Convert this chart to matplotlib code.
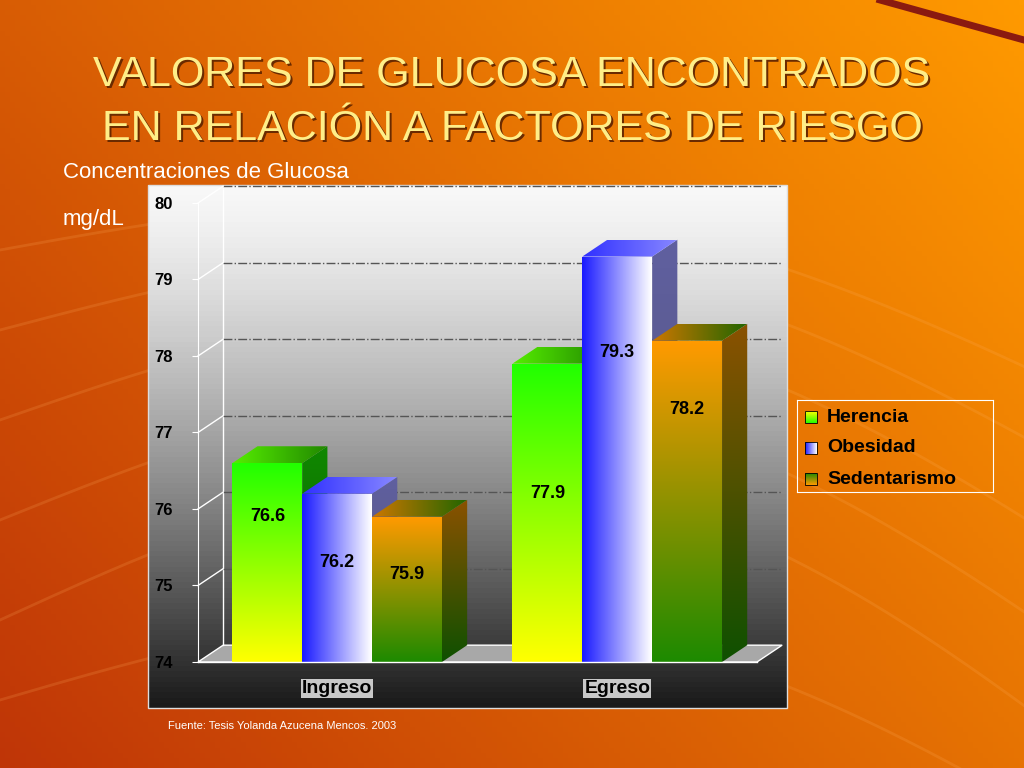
import numpy as np
import matplotlib.pyplot as plt
from matplotlib.colors import to_rgb
from matplotlib.patches import Polygon

plt.rcParams["font.family"] = "Liberation Sans"

# data
groups = ["Ingreso", "Egreso"]
series = ["Herencia", "Obesidad", "Sedentarismo"]
valores = {"Herencia": [76.6, 77.9], "Obesidad": [76.2, 79.3], "Sedentarismo": [75.9, 78.2]}
yticks = [74, 75, 76, 77, 78, 79, 80]

# how far below the bar top each value label sits (y units)
bajada = {"Herencia": [0.7, 1.7], "Obesidad": [0.9, 1.25], "Sedentarismo": [0.75, 0.9]}

# (front start, front end, direction) colours of each face
estilo = {
    "Herencia": dict(front=("#22ff00", "#ffff00", "v"), side=("#108800", "#0a5500", "v"), top=("#55ee00", "#228800", "h")),
    "Obesidad": dict(front=("#1a1aff", "#ffffff", "h"), side=("#6060a0", "#505070", "v"), top=("#3030ff", "#8888ff", "h")),
    "Sedentarismo": dict(front=("#ff9a00", "#1e8a00", "v"), side=("#8a5200", "#0f5000", "v"), top=("#cc7700", "#226600", "h")),
}


def gradfill(ax, verts, c1, c2, d, z):
    verts = np.array(verts)
    n = 64
    t = np.linspace(0, 1, n)
    a, b = np.array(to_rgb(c1)), np.array(to_rgb(c2))
    g = a[None, :] * (1 - t[:, None]) + b[None, :] * t[:, None]
    img = g[:, None, :] if d == "v" else g[None, :, :]
    x0, x1 = verts[:, 0].min(), verts[:, 0].max()
    y0, y1 = verts[:, 1].min(), verts[:, 1].max()
    im = ax.imshow(img, extent=[x0, x1, y0, y1], aspect="auto", origin="upper", zorder=z, interpolation="bilinear")
    poly = Polygon(verts, closed=True, fc="none", ec="none", transform=ax.transData)
    ax.add_patch(poly)
    im.set_clip_path(poly)


fig = plt.figure(figsize=(10.24, 7.68), dpi=100)

# background
bg = fig.add_axes([0, 0, 1, 1])
bg.set_xlim(0, 1024)
bg.set_ylim(768, 0)
bg.axis("off")
xx = np.linspace(0, 1, 200)
yy = np.linspace(0, 1, 150)
X, Y = np.meshgrid(xx, yy)
t = np.clip(0.55 * X + 0.35 * (1 - Y) + 0.1, 0, 1)
c_a, c_b = np.array(to_rgb("#b82a08")), np.array(to_rgb("#ff9a00"))
bgimg = c_a * (1 - t[..., None]) + c_b * t[..., None]
bg.imshow(bgimg, extent=[0, 1024, 768, 0], aspect="auto", zorder=0)
for k, (y0, amp) in enumerate([(250, 120), (330, 150), (420, 180), (520, 200), (620, 220), (700, 160)]):
    xs = np.linspace(0, 1024, 200)
    ys = y0 - amp * np.sin(xs / 1024 * np.pi * 0.9) + 0.15 * xs
    bg.plot(xs, ys, color="#ffb060", lw=2, alpha=0.18, zorder=1)
bg.plot([880, 1024], [0, 40], color="#8a1a10", lw=5, zorder=1)

# panel gradient
pt = np.linspace(0, 1, 100)
pa, pb = np.array(to_rgb("#f8f8f8")), np.array(to_rgb("#1a1a1a"))
pimg = (pa * (1 - pt[:, None] ** 1.3) + pb * pt[:, None] ** 1.3)[:, None, :]
bg.imshow(pimg, extent=[148, 787, 708, 185], aspect="auto", zorder=2)
bg.add_patch(plt.Rectangle((148, 185), 639, 523, fc="none", ec="#dddddd", lw=1, zorder=3))

# titles
for dx, col in [(2, "#6a2a00"), (0, "#ffee88")]:
    bg.text(512 + dx, 75 + dx, "VALORES DE GLUCOSA ENCONTRADOS", ha="center", va="center",
            fontsize=31, color=col, zorder=4)
    bg.text(512 + dx, 129 + dx, "EN RELACIÓN A FACTORES DE RIESGO", ha="center", va="center",
            fontsize=31, color=col, zorder=4)
bg.text(63, 172, "Concentraciones de Glucosa", fontsize=16, color="white", va="center", zorder=4)
bg.text(63, 219, "mg/dL", fontsize=16, color="white", va="center", zorder=4)
bg.text(168, 726, "Fuente: Tesis Yolanda Azucena Mencos. 2003", fontsize=8, color="white", va="center", zorder=4)

# chart axes (front plane)
ax = fig.add_axes([198 / 1024, 1 - 662 / 768, 559 / 1024, 459 / 768])
ax.set_xlim(0, 10)
ax.set_ylim(74, 80)
ax.patch.set_alpha(0)
ddx, ddy = 0.45, 0.22
for s in ["top", "right", "bottom"]:
    ax.spines[s].set_visible(False)
ax.spines["left"].set_color("white")
ax.set_xticks([])
ax.set_yticks(yticks)
ax.set_yticklabels([str(v) for v in yticks], fontsize=12, fontweight="bold")
ax.tick_params(axis="y", length=4, color="white", pad=14)

ax.add_patch(Polygon([(0, 74), (10, 74), (10 + ddx, 74 + ddy), (ddx, 74 + ddy)],
                     fc="#a8a8a8", ec="white", lw=1, zorder=1, clip_on=False))
ax.plot([ddx, ddx], [74 + ddy, 80 + ddy], color="white", lw=1, clip_on=False, zorder=1)
for v in yticks[1:]:
    ax.plot([ddx, 10 + ddx], [v + ddy, v + ddy], color="#555555", lw=1, ls="-.", clip_on=False, zorder=1)
    ax.plot([0, ddx], [v, v + ddy], color="white", lw=1, clip_on=False, zorder=1)

w = 1.25
centers = [2.49, 7.5]
z = 5
for gi, c in enumerate(centers):
    for si, name in enumerate(series):
        v = valores[name][gi]
        x0 = c - 1.5 * w + si * w
        x1 = x0 + w
        st = estilo[name]
        gradfill(ax, [(x0, 74), (x1, 74), (x1, v), (x0, v)], *st["front"], z)
        gradfill(ax, [(x1, 74), (x1 + ddx, 74 + ddy), (x1 + ddx, v + ddy), (x1, v)], *st["side"], z)
        gradfill(ax, [(x0, v), (x1, v), (x1 + ddx, v + ddy), (x0 + ddx, v + ddy)], *st["top"], z)
        z += 1
        ax.text(x0 + w / 2, v - bajada[name][gi], f"{v}", ha="center", va="center", fontsize=13,
                fontweight="bold", zorder=50)
    ax.text(c, 73.65, groups[gi], ha="center", va="center", fontsize=14, fontweight="bold",
            color="black", clip_on=False, zorder=50,
            bbox=dict(fc="#c8c8c8", ec="none", pad=0.5))
ax.plot([0, 10], [74, 74], color="white", lw=1, clip_on=False, zorder=40)

# legend
lg = fig.add_axes([797 / 1024, 1 - 492 / 768, 196 / 1024, 92 / 768])
lg.set_xlim(0, 196)
lg.set_ylim(92, 0)
lg.set_xticks([])
lg.set_yticks([])
lg.patch.set_alpha(0)
for s in lg.spines.values():
    s.set_color("white")
for i, name in enumerate(series):
    yc = 17 + i * 31
    gradfill(lg, [(8, yc - 6), (20, yc - 6), (20, yc + 6), (8, yc + 6)], *estilo[name]["front"], 2)
    lg.add_patch(plt.Rectangle((8, yc - 6), 12, 12, fc="none", ec="black", lw=0.6, zorder=3))
    lg.text(30, yc, name, fontsize=14, fontweight="bold", va="center")

fig.savefig("out.png", dpi=100)
